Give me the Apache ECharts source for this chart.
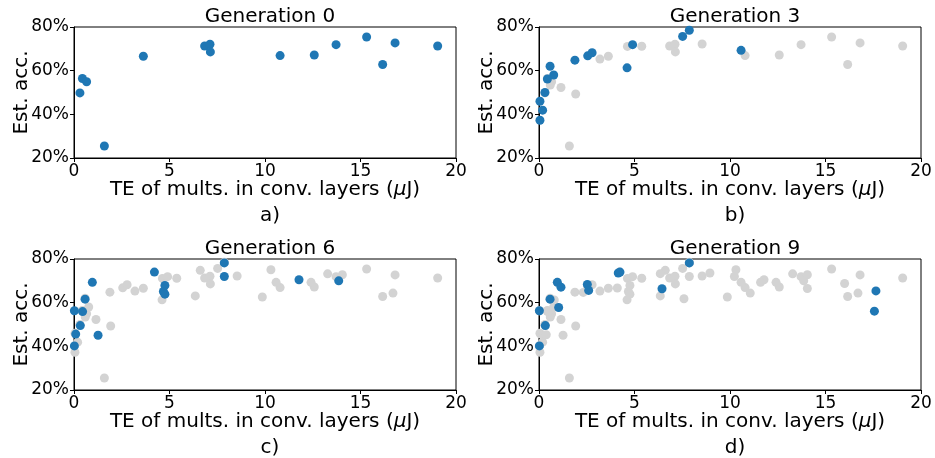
<!DOCTYPE html>
<html>
<head>
<meta charset="utf-8">
<script src="https://cdn.jsdelivr.net/npm/echarts@6/dist/echarts.min.js"></script>
<style>
  html, body { margin: 0; padding: 0; background: #fff; }
  #chart { width: 935px; height: 458px; }
</style>
</head>
<body>
<div id="chart"></div>
<script>
// [TE (uJ), est. accuracy (%)] per generation
const gen0 = [[0.31, 49.8], [0.44, 56.4], [0.66, 54.9], [1.59, 25.5], [3.63, 66.6], [6.84, 71.3], [7.12, 72.1], [7.14, 68.6], [10.79, 66.9], [12.58, 67.2], [13.72, 71.9], [15.32, 75.4], [16.16, 62.8], [16.81, 72.7], [19.04, 71.3]]
const gen1to2 = [[0.59, 53.4], [1.15, 52.3], [1.92, 49.3], [3.19, 65.3], [4.63, 71.1], [5.38, 71.2], [8.54, 72.2]]
const gen3 = [[0.05, 46.0], [0.19, 41.9], [0.05, 37.3], [0.31, 50.0], [0.44, 56.2], [0.58, 62.0], [0.77, 58.0], [1.88, 64.8], [2.55, 66.8], [2.78, 68.2], [4.61, 61.3], [4.9, 71.9], [7.52, 75.7], [7.87, 78.5], [10.58, 69.3]]
const gen4to5 = [[6.35, 63.1], [6.61, 74.8], [9.86, 62.6], [10.31, 75.1], [12.41, 69.3], [13.28, 73.2], [14.05, 72.8], [16.7, 64.4]]
const gen6 = [[0.02, 56.3], [0.09, 45.6], [0.02, 40.2], [0.33, 49.5], [0.45, 55.9], [0.58, 61.6], [0.96, 69.3], [1.26, 45.1], [4.21, 74.0], [4.76, 67.9], [4.68, 65.1], [4.76, 63.9], [7.87, 78.2], [7.87, 72.0], [11.78, 70.5], [13.86, 70.0]]
const gen7to8 = [[0.38, 45.3], [0.8, 61.2], [2.32, 64.7], [4.1, 66.7], [6.35, 73.3], [7.59, 61.8], [8.95, 73.6], [10.23, 72.0], [11.06, 64.4], [11.6, 69.3], [14.05, 66.5], [16.0, 68.8]]
const gen9 = [[0.02, 56.3], [0.02, 40.2], [0.33, 49.5], [0.58, 61.6], [0.96, 69.3], [1.15, 67.1], [1.03, 57.8], [2.53, 68.3], [2.6, 65.6], [4.15, 73.6], [4.24, 74.0], [6.44, 66.4], [7.87, 78.2], [17.64, 65.4], [17.56, 56.1]]

const xTicks = [0, 5, 10, 15, 20]
const yTicks = [20, 40, 60, 80]
const panelTitles = ['Generation 0', 'Generation 3', 'Generation 6', 'Generation 9']
const panelLetters = ['a)', 'b)', 'c)', 'd)']

// grey = everything seen in earlier generations
const history = [
  [],
  gen0.concat(gen1to2),
  gen0.concat(gen1to2, gen3, gen4to5),
  gen0.concat(gen1to2, gen3, gen4to5, gen6, gen7to8),
]
const current = [gen0, gen3, gen6, gen9]

const font = 'DejaVu Sans'
const pos = [
  { left: 74, top: 27 },
  { left: 539, top: 27 },
  { left: 74, top: 259 },
  { left: 539, top: 259 },
]
const W = 382
const H = 131

const chart = echarts.init(document.getElementById('chart'))

const grid = pos.map((p) => ({
  left: p.left,
  top: p.top,
  width: W,
  height: H,
  show: true,
  borderColor: '#000',
  borderWidth: 1,
}))

const title = []
pos.forEach((p, i) => {
  title.push({
    text: panelTitles[i],
    left: p.left + W / 2,
    top: p.top - 25,
    textAlign: 'center',
    textStyle: { fontFamily: font, fontSize: 20, fontWeight: 'normal', color: '#000' },
  })
  title.push({
    text: panelLetters[i],
    left: p.left + W / 2,
    top: p.top + H + 43,
    textAlign: 'center',
    textStyle: { fontFamily: font, fontSize: 20, fontWeight: 'normal', color: '#000' },
  })
})

const xAxis = pos.map((p, i) => ({
  gridIndex: i,
  type: 'value',
  min: xTicks[0],
  max: xTicks[xTicks.length - 1],
  interval: 5,
  name: 'TE of mults. in conv. layers ({i|μ}J)',
  nameLocation: 'middle',
  nameGap: 22,
  nameMoveOverlap: false,
  nameTextStyle: {
    fontFamily: font,
    fontSize: 20,
    color: '#000',
    verticalAlign: 'top',
    rich: { i: { fontFamily: font, fontSize: 20, fontStyle: 'italic', color: '#000' } },
  },
  axisLine: { show: true, onZero: false, lineStyle: { color: '#000', width: 1 } },
  axisTick: { show: true, inside: false, length: 4, lineStyle: { color: '#000' } },
  axisLabel: { fontFamily: font, fontSize: 17, color: '#000', margin: 5 },
  splitLine: { show: false },
}))

const yAxis = pos.map((p, i) => ({
  gridIndex: i,
  type: 'value',
  min: yTicks[0],
  max: yTicks[yTicks.length - 1],
  interval: 20,
  name: 'Est. acc.',
  nameLocation: 'middle',
  nameGap: 42,
  nameMoveOverlap: false,
  nameTextStyle: { fontFamily: font, fontSize: 20, color: '#000' },
  axisLine: { show: true, onZero: false, lineStyle: { color: '#000', width: 1 } },
  axisTick: { show: true, inside: false, length: 4, lineStyle: { color: '#000' } },
  axisLabel: { fontFamily: font, fontSize: 17, color: '#000', margin: 5, formatter: '{value}%' },
  splitLine: { show: false },
}))

const series = []
pos.forEach((p, i) => {
  series.push({
    type: 'scatter',
    xAxisIndex: i,
    yAxisIndex: i,
    symbolSize: 9,
    itemStyle: { color: '#d3d3d3', opacity: 1 },
    data: history[i],
    silent: true,
  })
  series.push({
    type: 'scatter',
    xAxisIndex: i,
    yAxisIndex: i,
    symbolSize: 9,
    itemStyle: { color: '#1f77b4', opacity: 1 },
    data: current[i],
    silent: true,
    z: 3,
  })
})

chart.setOption({
  animation: false,
  backgroundColor: '#fff',
  title,
  grid,
  xAxis,
  yAxis,
  series,
})
</script>
</body>
</html>
